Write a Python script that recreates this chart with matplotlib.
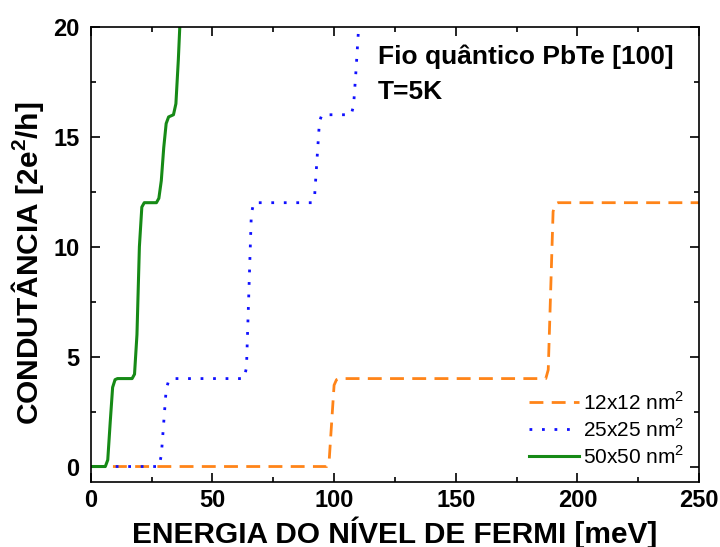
import matplotlib
matplotlib.use("Agg")
import matplotlib.pyplot as plt
from matplotlib.ticker import MultipleLocator

plt.rcParams['font.family'] = ['Liberation Sans', 'DejaVu Sans']
plt.rcParams['mathtext.fontset'] = 'custom'
plt.rcParams['mathtext.rm'] = 'Liberation Sans'
plt.rcParams['mathtext.bf'] = 'Liberation Sans:bold'

# 12x12 nm^2
x_12 = [0, 97, 98, 99, 100, 101, 102, 187, 188, 189, 190, 191, 192, 250]
g_12 = [0, 0, 0.3, 2.0, 3.7, 3.95, 4, 4, 4.4, 8.0, 11.6, 11.95, 12, 12]
# 25x25 nm^2
x_25 = [0, 28, 29, 30, 31, 32, 33, 63, 64, 65, 66, 67, 91, 92, 93, 94, 95, 107, 108, 109, 110, 111]
g_25 = [0, 0, 0.5, 2.0, 3.5, 3.9, 4, 4, 4.5, 8.0, 11.5, 12, 12, 12.3, 14.0, 15.7, 16, 16, 16.4, 18.0, 19.8, 21]
# 50x50 nm^2
x_50 = [0, 6, 7, 8, 9, 10, 11, 17, 18, 19, 20, 21, 22, 27, 28, 29, 30, 31, 32, 34, 35, 36, 37]
g_50 = [0, 0, 0.3, 2.0, 3.6, 3.95, 4, 4, 4.2, 6.0, 10.0, 11.8, 12, 12, 12.2, 13.0, 14.5, 15.6, 15.9, 16, 16.5, 18.5, 21]

labels = ['12x12 nm$^2$', '25x25 nm$^2$', '50x50 nm$^2$']

fig = plt.figure(figsize=(7.2, 5.47), dpi=100)
ax = fig.add_axes([0.126, 0.119, 0.845, 0.832])

ax.plot(x_12, g_12, color='#ff8418', lw=2, linestyle=(0, (5, 3)), label=labels[0])
ax.plot(x_25, g_25, color='#1010ff', lw=2, linestyle=(0, (1, 3.5)), label=labels[1])
ax.plot(x_50, g_50, color='#168a16', lw=2.2, label=labels[2])

ax.set_xlim(0, 250)
ax.set_ylim(-0.7, 20)
ax.xaxis.set_major_locator(MultipleLocator(50))
ax.xaxis.set_minor_locator(MultipleLocator(25))
ax.yaxis.set_major_locator(MultipleLocator(5))
ax.yaxis.set_minor_locator(MultipleLocator(2.5))
ax.tick_params(which='both', direction='in', top=True, right=True, width=1.2)
ax.tick_params(which='major', length=6.5, labelsize=17)
ax.tick_params(axis='x', which='major', pad=5)
ax.tick_params(axis='y', which='major', pad=8)
ax.tick_params(which='minor', length=3.3)
for lab in ax.get_xticklabels() + ax.get_yticklabels():
    lab.set_fontweight('bold')
for s in ax.spines.values():
    s.set_linewidth(1.2)

ax.set_xlabel('ENERGIA DO NÍVEL DE FERMI [meV]', fontsize=21.5, fontweight='bold', labelpad=3)
ax.set_ylabel('CONDUTÂNCIA [2e$^\\mathbf{2}$/h]', fontsize=21.5, fontweight='bold')
ax.yaxis.set_label_coords(-0.074, 0.48)

ax.text(0.472, 0.934, 'Fio quântico PbTe [100]', transform=ax.transAxes,
        fontsize=19, fontweight='bold', va='center', ha='left')
ax.text(0.472, 0.857, 'T=5K', transform=ax.transAxes,
        fontsize=19, fontweight='bold', va='center', ha='left')

ax.legend(loc='lower right', frameon=False, fontsize=15, handlelength=2.4,
          handletextpad=0.2, labelspacing=0.2, borderaxespad=0.3)

fig.savefig('out.png', dpi=100)
